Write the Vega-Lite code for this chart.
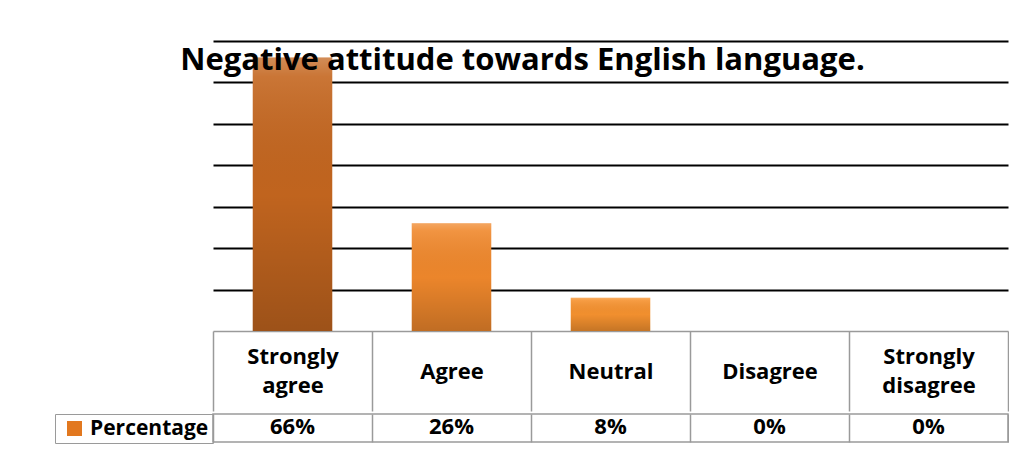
{
  "$schema": "https://vega.github.io/schema/vega-lite/v6.json",
  "background": "white",
  "padding": {"left": 53, "top": 41, "right": 0, "bottom": 0},
  "spacing": 0,
  "config": {"font": "Open Sans", "view": {"stroke": null}},
  "resolve": {"scale": {"color": "independent"}, "legend": {"color": "independent"}},
  "data": {"values": [
    {"response": "Strongly agree", "pct": 0.66, "series": "Percentage"},
    {"response": "Agree", "pct": 0.26, "series": "Percentage"},
    {"response": "Neutral", "pct": 0.08, "series": "Percentage"},
    {"response": "Disagree", "pct": 0.0, "series": "Percentage"},
    {"response": "Strongly disagree", "pct": 0.0, "series": "Percentage"}
  ]},
  "vconcat": [
    {
      "width": 795,
      "height": 290,
      "title": {"text": "Negative attitude towards English language.", "font": "Open Sans", "fontSize": 31, "fontWeight": "bold", "color": "black", "anchor": "middle", "frame": "group", "baseline": "alphabetic", "offset": 0, "dy": 60, "dx": -88},
      "encoding": {
        "x": {"field": "response", "type": "nominal", "sort": null,
          "scale": {"paddingInner": 0, "paddingOuter": 0},
          "axis": {"title": null, "labelAngle": 0, "labelExpr": "split(datum.label, ' ')", "labelFont": "Open Sans", "labelFontWeight": "bold", "labelFontSize": 22, "labelColor": "black", "labelLineHeight": 29, "labelBaseline": "middle",
            "labelPadding": {"condition": {"test": "indexof(datum.label, ' ') >= 0", "value": -54.5}, "value": -40},
            "tickBand": "extent", "tickSize": 80, "tickColor": "#9a9a9a", "tickWidth": 1.5, "domainColor": "#9a9a9a", "domainWidth": 1.5, "labelLimit": 200}},
        "y": {"field": "pct", "type": "quantitative",
          "scale": {"domain": [0, 0.7], "nice": false},
          "axis": {"title": null, "labels": false, "ticks": false, "domain": false, "grid": true, "gridColor": "black", "gridWidth": 2, "values": [0.1, 0.2, 0.3, 0.4, 0.5, 0.6, 0.7], "minExtent": 160, "maxExtent": 160}}
      },
      "layer": [
        {"mark": {"type": "bar", "width": {"band": 0.5}},
         "encoding": {"color": {"field": "response", "type": "nominal", "sort": null, "legend": null,
           "scale": {"range": ["#c4661f", "#f0882c", "#f6922f", "#f6922f", "#f6922f"]}}}},
        {"mark": {"type": "bar", "width": {"band": 0.5}, "color": {"gradient": "linear", "x1": 0, "y1": 0, "x2": 0, "y2": 1, "stops": [
          {"offset": 0, "color": "rgba(255,255,255,0.25)"},
          {"offset": 0.07, "color": "rgba(255,255,255,0.1)"},
          {"offset": 0.5, "color": "rgba(0,0,0,0.02)"},
          {"offset": 1, "color": "rgba(0,0,0,0.2)"}]}}}
      ]
    },
    {
      "width": 795,
      "height": 28,
      "view": {"stroke": "#9a9a9a", "strokeWidth": 1.5},
      "encoding": {
        "x": {"field": "response", "type": "nominal", "sort": null,
          "scale": {"paddingInner": 0, "paddingOuter": 0},
          "axis": {"title": null, "labels": false, "ticks": false, "domain": false, "grid": true, "tickBand": "extent", "gridColor": "#9a9a9a", "gridWidth": 1.5}}
      },
      "layer": [
        {"mark": {"type": "point", "filled": true, "shape": "square", "opacity": 0},
         "encoding": {"color": {"field": "series", "type": "nominal",
           "scale": {"range": ["#e2781f"]},
           "legend": {"orient": "left", "offset": 0, "title": null, "strokeColor": "#9a9a9a", "padding": 4, "symbolType": "square", "symbolSize": 225, "symbolOpacity": 1, "symbolStrokeWidth": 0, "labelFont": "Open Sans", "labelFontWeight": "bold", "labelFontSize": 21, "labelColor": "black", "labelOffset": 5, "symbolOffset": 5}}}},
        {"mark": {"type": "text", "font": "Open Sans", "fontWeight": "bold", "fontSize": 22, "color": "black", "baseline": "middle", "dy": -1},
         "encoding": {"text": {"field": "pct", "type": "quantitative", "format": ".0%"}}}
      ]
    }
  ]
}
